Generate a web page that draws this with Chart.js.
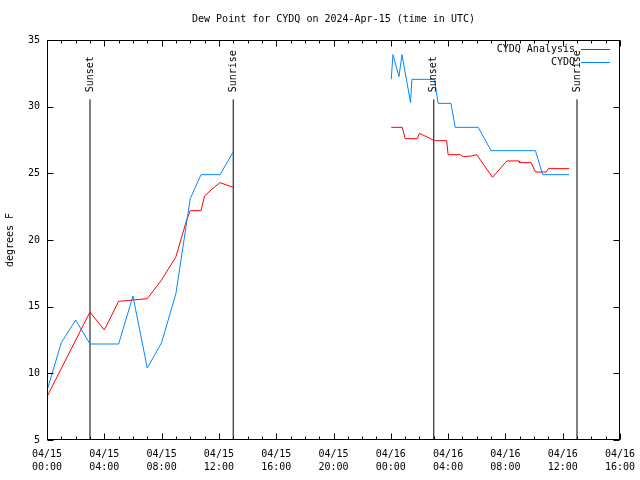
<!DOCTYPE html>
<html>
<head>
<meta charset="utf-8">
<script src="https://cdn.jsdelivr.net/npm/chart.js@4"></script>
<style>
html, body { margin: 0; padding: 0; background: #fff; }
#wrap { width: 640px; height: 480px; }
</style>
</head>
<body>
<div id="wrap"><canvas id="dewChart"></canvas></div>
<script>
// hours since 04/15 00:00 UTC, null = gap in the record
const obsHours = [0, 1, 2, 3, 5, 6, 7, 8, 9, 10, 10.75, 12.08, 13, 18,
    24.03, 24.15, 24.57, 24.78, 25.38, 25.47, 27.05, 27.3, 28.2, 28.5, 30.1, 31.0, 34.1, 34.6, 36.45];
const obsDewF = [8.7, 12.3, 14.0, 12.2, 12.2, 15.8, 10.4, 12.3, 16.0, 23.1, 24.9, 24.9, 26.6, null,
    32.05, 33.9, 32.25, 33.9, 30.3, 32.05, 32.05, 30.25, 30.25, 28.45, 28.45, 26.7, 26.7, 24.9, 24.9];

const anaHours = [0, 3, 4, 5, 6, 7, 8, 9, 9.75, 10, 10.75, 11, 11.5, 12.08, 13, 18,
    24.03, 24.8, 25.0, 25.85, 26.0, 27.05, 27.9, 28.0, 28.85, 29.05, 29.6, 30.0, 31.1, 32.1,
    32.95, 33.0, 33.8, 34.1, 34.85, 35.0, 36.45];
const anaDewF = [8.25, 14.6, 13.25, 15.4, 15.5, 15.6, 17.0, 18.75, 21.5, 22.2, 22.2, 23.3, 23.8, 24.3, 23.95, null,
    28.45, 28.45, 27.6, 27.6, 28.0, 27.45, 27.45, 26.4, 26.4, 26.25, 26.3, 26.4, 24.7, 25.93,
    25.93, 25.8, 25.8, 25.1, 25.1, 25.35, 25.35];

const sunsetHours = [3, 27];
const sunriseHours = [13, 37];
const sunLineTop = 30.55;

const xTickStep = 4;
const yTickStep = 5;

const titleText = 'Dew Point for CYDQ on 2024-Apr-15 (time in UTC)';
const FONT = '"DejaVu Sans Mono", "Liberation Mono", monospace';

function toPoints(xs, ys) {
    return xs.map((x, i) => ({ x: x, y: ys[i] }));
}

function hourLabel(h) {
    const day = 15 + Math.floor(h / 24);
    const hr = h % 24;
    return ['04/' + day, String(hr).padStart(2, '0') + ':00'];
}

const sunEvents = sunsetHours.map(h => ({ h: h, label: 'Sunset' }))
    .concat(sunriseHours.map(h => ({ h: h, label: 'Sunrise' })));

const sunSets = sunEvents.map(ev => ({
    label: ev.label,
    data: [{ x: ev.h, y: 5 }, { x: ev.h, y: sunLineTop }],
    borderColor: '#000000',
    borderWidth: 1,
    pointRadius: 0,
    inLegend: false,
    order: 3
}));

// gnuplot-ish frame: box, inward tics, title over plot, sun labels, key
const frameLines = {
    id: 'frameLines',
    afterDraw(chart) {
        const ctx = chart.ctx;
        const a = chart.chartArea;
        const xs = chart.scales.x, ys = chart.scales.y;
        const L = Math.round(a.left) + 0.5, R = Math.round(a.right) - 0.5;
        const T = Math.round(a.top) + 0.5, B = Math.round(a.bottom) - 0.5;
        ctx.save();
        ctx.strokeStyle = '#000';
        ctx.lineWidth = 1;
        ctx.strokeRect(L, T, R - L, B - T);

        ctx.beginPath();
        for (let h = xs.min; h <= xs.max; h++) {
            const x = Math.round(xs.getPixelForValue(h)) + 0.5;
            const len = h % xTickStep === 0 ? 6 : 3;
            ctx.moveTo(x, B); ctx.lineTo(x, B - len);
            ctx.moveTo(x, T); ctx.lineTo(x, T + len);
        }
        for (let v = ys.min; v <= ys.max; v += yTickStep) {
            const y = Math.round(ys.getPixelForValue(v)) + 0.5;
            ctx.moveTo(L, y); ctx.lineTo(L + 6, y);
            ctx.moveTo(R, y); ctx.lineTo(R - 6, y);
        }
        ctx.stroke();

        ctx.fillStyle = '#000';
        ctx.font = '10px ' + FONT;
        ctx.textAlign = 'center';
        ctx.textBaseline = 'middle';
        ctx.fillText(titleText, (a.left + a.right) / 2, 19);

        sunEvents.forEach(ev => {
            const x = xs.getPixelForValue(ev.h);
            const y = ys.getPixelForValue(sunLineTop) - 7;
            ctx.save();
            ctx.translate(x, y);
            ctx.rotate(-Math.PI / 2);
            ctx.textAlign = 'left';
            ctx.textBaseline = 'middle';
            ctx.fillText(ev.label, 0, 0);
            ctx.restore();
        });

        let row = 0;
        chart.data.datasets.forEach(ds => {
            if (ds.inLegend === false) return;
            const y = 49.5 + row * 13;
            ctx.textAlign = 'right';
            ctx.textBaseline = 'middle';
            ctx.fillText(ds.label, 575, y);
            ctx.strokeStyle = ds.borderColor;
            ctx.beginPath();
            ctx.moveTo(581, y); ctx.lineTo(610, y);
            ctx.stroke();
            row++;
        });
        ctx.restore();
    }
};

new Chart(document.getElementById('dewChart'), {
    type: 'line',
    data: {
        datasets: [{
            label: 'CYDQ Analysis',
            data: toPoints(anaHours, anaDewF),
            borderColor: '#ff0000',
            borderWidth: 1,
            pointRadius: 0,
            order: 2
        }, {
            label: 'CYDQ',
            data: toPoints(obsHours, obsDewF),
            borderColor: '#0088ff',
            borderWidth: 1,
            pointRadius: 0,
            order: 1
        }].concat(sunSets)
    },
    options: {
        responsive: true,
        maintainAspectRatio: false,
        animation: false,
        spanGaps: false,
        layout: { padding: { left: 0, right: 20, top: 40, bottom: 0 } },
        plugins: {
            legend: { display: false },
            tooltip: { enabled: false },
            title: { display: false }
        },
        scales: {
            x: {
                type: 'linear',
                min: 0,
                max: 40,
                afterFit(scale) {
                    scale.height = 40;
                    scale.paddingLeft = 0;
                    scale.paddingRight = 0;
                },
                grid: { display: false, drawTicks: false },
                border: { display: false },
                ticks: {
                    stepSize: xTickStep,
                    autoSkip: false,
                    maxRotation: 0,
                    padding: 8,
                    color: '#000',
                    font: { family: FONT, size: 10, lineHeight: 1.3 },
                    callback: v => hourLabel(v)
                }
            },
            y: {
                min: 5,
                max: 35,
                afterFit(scale) {
                    scale.width = 47;
                    scale.paddingTop = 0;
                    scale.paddingBottom = 0;
                },
                grid: { display: false, drawTicks: false },
                border: { display: false },
                ticks: {
                    stepSize: yTickStep,
                    padding: 7,
                    color: '#000',
                    font: { family: FONT, size: 10 }
                },
                title: {
                    display: true,
                    text: 'degrees F',
                    color: '#000',
                    font: { family: FONT, size: 10 },
                    padding: { top: 4, bottom: 0 }
                }
            }
        }
    },
    plugins: [frameLines]
});
</script>
</body>
</html>
